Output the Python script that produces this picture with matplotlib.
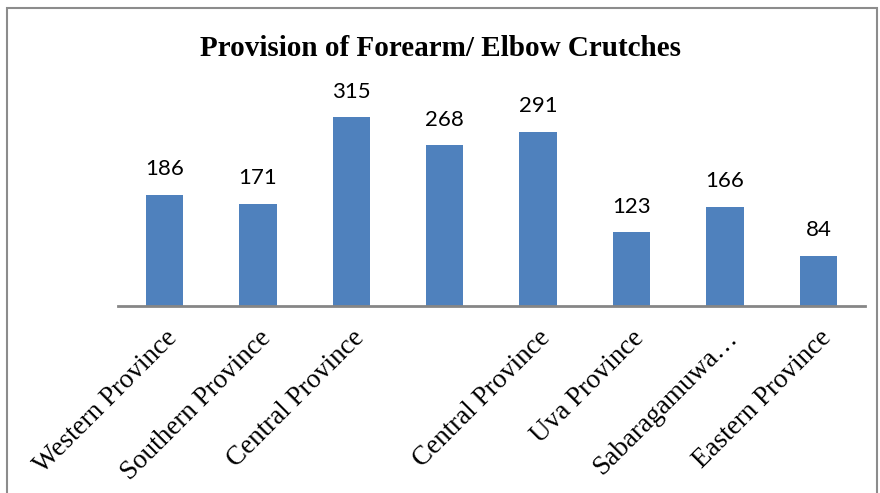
import matplotlib.pyplot as plt
from matplotlib.patches import Rectangle

# data
provinces = ['Western Province', 'Southern Province', 'Central Province', '',
             'Central Province', 'Uva Province', 'Sabaragamuwa…', 'Eastern Province']
counts = [186, 171, 315, 268, 291, 123, 166, 84]

fig = plt.figure(figsize=(8.8, 4.93), dpi=100)
ax = fig.add_axes([0.134, 0.379, 0.849, 0.426])

# figure border
fig.patches.append(Rectangle((0.008, -0.1), 0.989, 1.083, transform=fig.transFigure,
                             fill=False, edgecolor='#8c8c8c', lw=1.5))

x = range(len(counts))
bars = ax.bar(x, counts, width=0.4, color='#4F81BD')
for b, v in zip(bars, counts):
    ax.annotate(str(v), (b.get_x() + b.get_width() / 2, v), xytext=(0, 11),
                textcoords='offset points', ha='center', va='bottom',
                fontsize=16, family='Lato')

ax.set_xlim(-0.5, 7.5)
ax.set_ylim(0, 350)
ax.set_yticks([])
for s in ['top', 'right', 'left']:
    ax.spines[s].set_visible(False)
ax.spines['bottom'].set_color('#868686')
ax.spines['bottom'].set_linewidth(2)
ax.tick_params(axis='x', length=0, pad=14)
ax.set_xticks(list(x))
ax.set_xticklabels(provinces, rotation=45, ha='right', rotation_mode='anchor',
                   family='Liberation Serif', fontsize=19.5)

fig.text(0.5, 0.902, 'Provision of Forearm/ Elbow Crutches', ha='center', va='center',
         family='Liberation Serif', fontweight='bold', fontsize=21)

fig.savefig('out.png', dpi=100)
